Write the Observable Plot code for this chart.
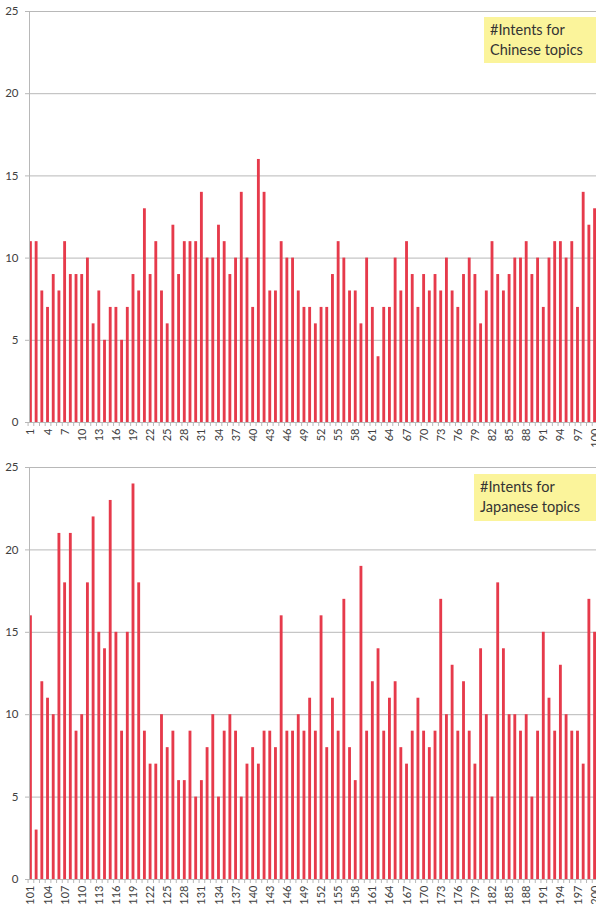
<!DOCTYPE html>
<html>
<head>
<meta charset="utf-8">
<script src="https://cdn.jsdelivr.net/npm/d3@7"></script>
<script src="https://cdn.jsdelivr.net/npm/@observablehq/plot@0.6"></script>
<style>
  html, body { margin: 0; padding: 0; background: #fff; }
  #wrap { position: relative; width: 596px; }
  .panel { position: relative; }
  .note { position: absolute; background: #fbf49b; color: #333; font-family: Lato, "Noto Sans", sans-serif; font-size: 14.5px; line-height: 20px; padding: 3px 6px; box-sizing: border-box; }
  svg { display: block; }
</style>
</head>
<body>
<div id="wrap">
  <div class="panel" id="p1"><div class="note" style="left:484px; top:17px; width:112px; height:46px;">#Intents for<br>Chinese topics</div></div>
  <div class="panel" id="p2"><div class="note" style="left:474px; top:19px; width:122px; height:47px;">#Intents for<br>Japanese topics</div></div>
</div>
<script>
// Chinese topics 1-100
const chineseTopics = d3.range(1, 101);
const chineseIntents = [
  11,11,8,7,9,8,11,9,9,9,
  10,6,8,5,7,7,5,7,9,8,
  13,9,11,8,6,12,9,11,11,11,
  14,10,10,12,11,9,10,14,10,7,
  16,14,8,8,11,10,10,8,7,7,
  6,7,7,9,11,10,8,8,6,10,
  7,4,7,7,10,8,11,9,7,9,
  8,9,8,10,8,7,9,10,9,6,
  8,11,9,8,9,10,10,11,9,10,
  7,10,11,11,10,11,7,14,12,13
];
// Japanese topics 101-200
const japaneseTopics = d3.range(101, 201);
const japaneseIntents = [
  16,3,12,11,10,21,18,21,9,10,
  18,22,15,14,23,15,9,15,24,18,
  9,7,7,10,8,9,6,6,9,5,
  6,8,10,5,9,10,9,5,7,8,
  7,9,9,8,16,9,9,10,9,11,
  9,16,8,11,9,17,8,6,19,9,
  12,14,9,11,12,8,7,9,11,9,
  8,9,17,10,13,9,12,9,7,14,
  10,5,18,14,10,10,9,10,5,9,
  15,11,9,13,10,9,9,7,17,15
];
const yTicks = [0, 5, 10, 15, 20, 25];

const W = 596, ML = 29, MR = 0;
const step = (W - ML - MR) / 100;

function panel(topics, values, height, marginTop, marginBottom) {
  const data = topics.map((t, i) => ({topic: t, value: values[i]}));
  const labelTicks = topics.filter((t, i) => i % 3 === 0);
  return Plot.plot({
    width: W,
    height,
    marginLeft: ML,
    marginRight: MR,
    marginTop,
    marginBottom,
    style: {fontFamily: "Lato, 'Noto Sans', sans-serif", fontSize: "11px", color: "#404040", background: "white"},
    x: {type: "band", domain: topics, padding: 0.5, paddingOuter: 0, align: 0.5, label: null},
    y: {domain: [0, 25], label: null},
    marks: [
      Plot.gridY(yTicks, {stroke: "#b8b8b8", strokeOpacity: 1, strokeWidth: 1}),
      Plot.barY(data, {x: "topic", y: "value", fill: "#e63a4b"}),
      Plot.ruleY([0], {stroke: "#b8b8b8"}),
      Plot.frame({anchor: "left", stroke: "#b8b8b8"}),
      Plot.axisY(yTicks, {tickSize: 4, tickPadding: 7, stroke: "#b8b8b8", fill: "#404040", fontSize: 11.5}),
      Plot.axisX(topics, {tickSize: 4, text: null, dx: -step / 2, stroke: "#b8b8b8"}),
      Plot.axisX(labelTicks, {tickSize: 0, tickPadding: 6, tickRotate: -90, fill: "#404040", fontSize: 11, label: null})
    ]
  });
}

const p1 = document.getElementById("p1");
const p2 = document.getElementById("p2");
p1.prepend(panel(chineseTopics, chineseIntents, 455, 11, 33));
p2.prepend(panel(japaneseTopics, japaneseIntents, 452, 12, 28));
</script>
</body>
</html>
